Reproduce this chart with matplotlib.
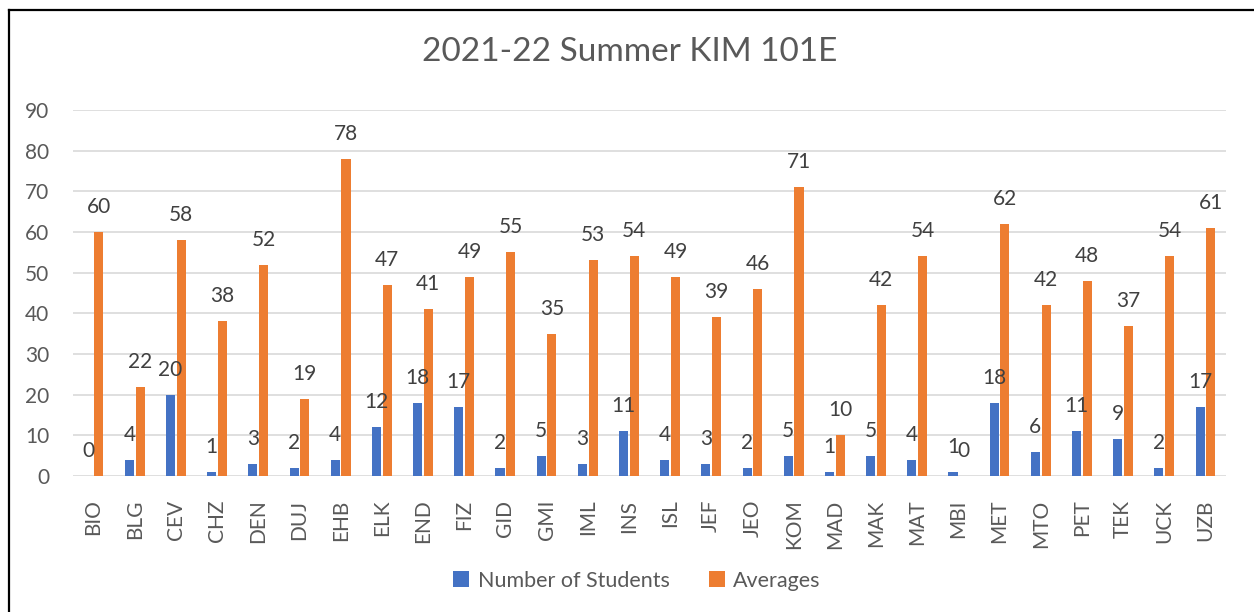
import matplotlib
matplotlib.use("Agg")
import matplotlib.pyplot as plt
import numpy as np
from matplotlib.lines import Line2D

categories = ["BIO", "BLG", "CEV", "CHZ", "DEN", "DUJ", "EHB", "ELK", "END", "FIZ",
              "GID", "GMI", "IML", "INS", "ISL", "JEF", "JEO", "KOM", "MAD", "MAK",
              "MAT", "MBI", "MET", "MTO", "PET", "TEK", "UCK", "UZB"]
students = [0, 4, 20, 1, 3, 2, 4, 12, 18, 17, 2, 5, 3, 11, 4, 3, 2, 5, 1, 5, 4, 1, 18, 6, 11, 9, 2, 17]
averages = [60, 22, 58, 38, 52, 19, 78, 47, 41, 49, 55, 35, 53, 54, 49, 39, 46, 71, 10, 42, 54, 0, 62, 42, 48, 37, 54, 61]
yticks = [0, 10, 20, 30, 40, 50, 60, 70, 80, 90]

plt.rcParams['font.family'] = ['Lato', 'DejaVu Sans']

fig = plt.figure(figsize=(12.54, 6.12), dpi=100)
ax = fig.add_axes([0.0582, 0.2222, 0.9195, 0.5981])

x = np.arange(len(categories))
w = 0.22
off = 0.13
b1 = ax.bar(x - off, students, w, color="#4472C4", label="Number of Students", zorder=3)
b2 = ax.bar(x + off, averages, w, color="#ED7D31", label="Averages", zorder=3)

for bars, vals in ((b1, students), (b2, averages)):
    for r, v in zip(bars, vals):
        ax.annotate(str(v), (r.get_x() + r.get_width() / 2, v), xytext=(0, 18),
                    textcoords="offset points", ha="center", va="center",
                    fontsize=15, color="#404040")

ax.set_xlim(-0.5, len(categories) - 0.5)
ax.set_ylim(0, 90)
ax.set_yticks(yticks)
ax.set_xticks(x)
ax.set_xticklabels(categories, rotation=90, fontsize=15, color="#595959")
ax.tick_params(axis='y', labelsize=15, labelcolor="#595959", length=0, pad=17)
ax.tick_params(axis='x', length=0, pad=17)
ax.grid(axis='y', color="#D9D9D9", linewidth=1.2, zorder=0)
for s in ax.spines.values():
    s.set_visible(False)

fig.text(0.502, 0.915, "2021-22 Summer KIM 101E", ha="center", va="center",
         fontsize=24, color="#595959")

leg = fig.legend(handles=[b1, b2], loc="center", bbox_to_anchor=(0.508, 0.051),
                 ncol=2, frameon=False, fontsize=15.5, handlelength=0.75, handleheight=0.75,
                 columnspacing=1.8, handletextpad=0.4)
for t in leg.get_texts():
    t.set_color("#595959")

fig.add_artist(Line2D([8.5 / 1254, 8.5 / 1254], [0, 1 - 10 / 612], transform=fig.transFigure,
                      color="black", linewidth=1.6))
fig.add_artist(Line2D([8.5 / 1254, 1], [1 - 10 / 612, 1 - 10 / 612], transform=fig.transFigure,
                      color="black", linewidth=1.6))

fig.savefig("out.png", dpi=100)
